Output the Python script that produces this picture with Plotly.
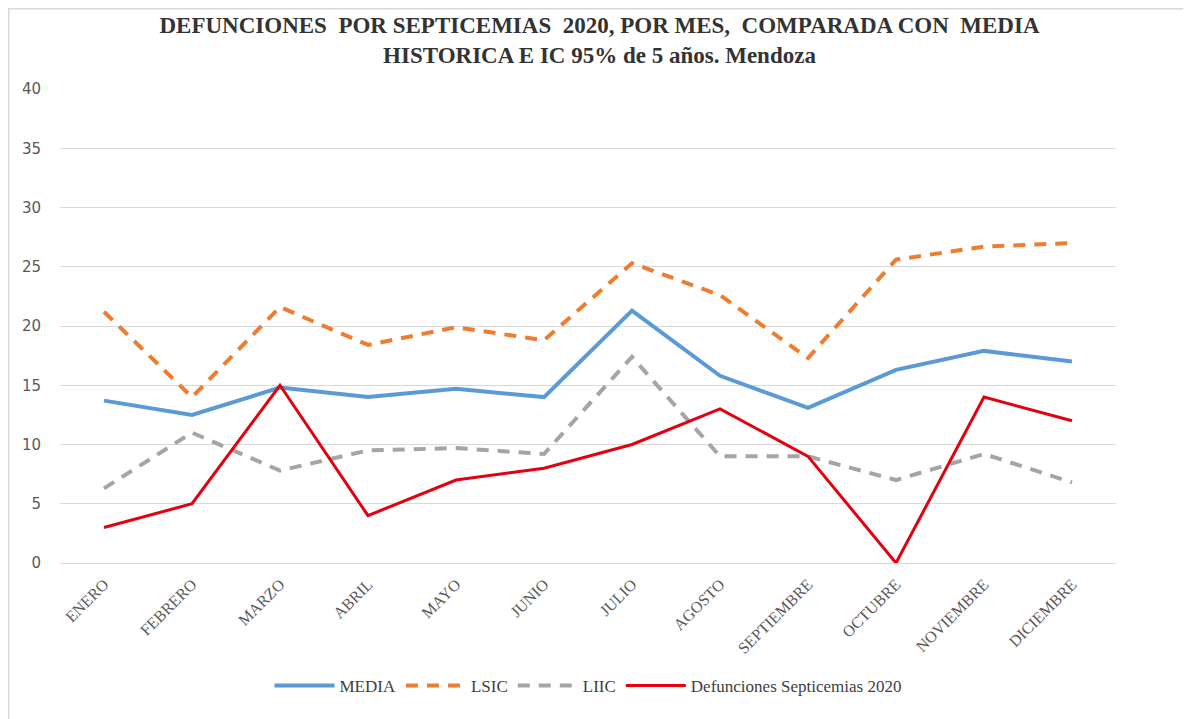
import plotly.graph_objects as go

meses = ["ENERO", "FEBRERO", "MARZO", "ABRIL", "MAYO", "JUNIO", "JULIO",
         "AGOSTO", "SEPTIEMBRE", "OCTUBRE", "NOVIEMBRE", "DICIEMBRE"]
media = [13.7, 12.5, 14.8, 14.0, 14.7, 14.0, 21.3, 15.8, 13.1, 16.3, 17.9, 17.0]
lsic = [21.2, 14.0, 21.6, 18.4, 19.9, 18.8, 25.3, 22.6, 17.3, 25.6, 26.7, 27.0]
liic = [6.3, 11.0, 7.8, 9.5, 9.7, 9.2, 17.4, 9.0, 9.0, 7.0, 9.2, 6.8]
defunciones = [3, 5, 15, 4, 7, 8, 10, 13, 9, 0, 14, 12]

fig = go.Figure()
fig.add_trace(go.Scatter(x=meses, y=media, name="MEDIA", mode="lines",
                         line=dict(color="#5B9BD5", width=4)))
fig.add_trace(go.Scatter(x=meses, y=lsic, name="LSIC", mode="lines",
                         line=dict(color="#ED7D31", width=4, dash="12px,9px")))
fig.add_trace(go.Scatter(x=meses, y=liic, name="LIIC", mode="lines",
                         line=dict(color="#A5A5A5", width=4, dash="12px,9px")))
fig.add_trace(go.Scatter(x=meses, y=defunciones, name="Defunciones Septicemias 2020", mode="lines",
                         line=dict(color="#E3000F", width=3)))

# page is offset by 8px; figure coordinates below are page - 8
W, H = 1183, 711
L, R, T, B = 52, 75, 81, 156
pw, ph = W - L - R, H - T - B

fig.update_layout(
    width=W, height=H,
    paper_bgcolor="white", plot_bgcolor="white",
    margin=dict(l=L, r=R, t=T, b=B, autoexpand=False),
    title=dict(
        text="<b>DEFUNCIONES  POR SEPTICEMIAS  2020, POR MES,  COMPARADA CON  MEDIA<br>HISTORICA E IC 95% de 5 años. Mendoza</b>",
        x=0.5, xanchor="center", yref="container", y=1 - 25 / H, yanchor="middle",
        font=dict(family="Liberation Serif", size=23, color="#333333"),
    ),
    xaxis=dict(
        tickangle=-45, tickfont=dict(family="Liberation Serif", size=16, color="#595959"),
        showgrid=False, showline=False, ticks="", range=[-0.5, 11.5], automargin=False,
        ticklabelstandoff=8,
    ),
    yaxis=dict(
        range=[0, 40], dtick=5, showgrid=True, gridcolor="#D9D9D9", gridwidth=1,
        zeroline=True, zerolinecolor="#D9D9D9", zerolinewidth=1,
        tickfont=dict(family="DejaVu Sans", size=15, color="#595959"),
        ticklabelstandoff=18, automargin=False,
    ),
    legend=dict(orientation="h", x=0.5, xanchor="center", y=-(678 - (T + ph)) / ph, yanchor="middle",
                font=dict(family="Liberation Serif", size=17, color="#404040"),
                itemwidth=60),
    shapes=[dict(type="rect", xref="paper", yref="paper",
                 x0=-(L - 0.75) / pw, x1=(W - L + 20) / pw,
                 y0=-(B + 20) / ph, y1=1 + (T - 0.75) / ph,
                 line=dict(color="#D9D9D9", width=1.5))],
)

fig.write_html("out.html")
